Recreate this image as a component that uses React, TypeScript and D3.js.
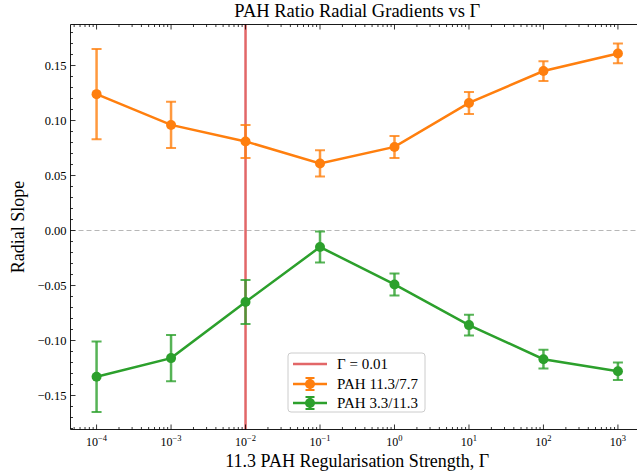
import React from 'react';
import * as d3 from 'd3';

const gammas = [1e-4, 1e-3, 1e-2, 1e-1, 1e0, 1e1, 1e2, 1e3];
const ratio1177 = [0.124, 0.096, 0.081, 0.061, 0.076, 0.116, 0.145, 0.161];
const ratio1177Err = [0.041, 0.021, 0.015, 0.012, 0.010, 0.010, 0.009, 0.009];
const ratio33113 = [-0.133, -0.116, -0.065, -0.015, -0.049, -0.086, -0.117, -0.128];
const ratio33113Err = [0.032, 0.021, 0.020, 0.014, 0.010, 0.0095, 0.0085, 0.008];
const gammaChosen = 0.01;
const yTicks = [-0.15, -0.1, -0.05, 0, 0.05, 0.1, 0.15];
const xTickExps = [-4, -3, -2, -1, 0, 1, 2, 3];

const W = 637;
const H = 474;
const left = 70.5;
const right = 644;
const top = 24.5;
const bottom = 429.5;
const font = '"Liberation Serif", "DejaVu Serif", serif';

const series = [
  { label: 'PAH 11.3/7.7', values: ratio1177, errs: ratio1177Err, color: '#ff7f0e' },
  { label: 'PAH 3.3/11.3', values: ratio33113, errs: ratio33113Err, color: '#2ca02c' },
];

export default function App() {
  const x = d3.scaleLog().domain([10 ** -4.35, 10 ** 3.35]).range([left, right]);
  const y = d3.scaleLinear().domain([-0.1809, 0.1873]).range([bottom, top]);

  const minorX: number[] = [];
  for (let e = -5; e <= 3; e++) {
    for (let k = 2; k <= 9; k++) {
      const v = k * 10 ** e;
      if (x(v) > left && x(v) < right) minorX.push(v);
    }
  }
  const minorY: number[] = d3.range(-18, 19).map(i => i / 100).filter(v => !yTicks.some(t => Math.abs(t - v) < 1e-6));

  const line = d3.line<number>().x((d, i) => x(gammas[i])).y(d => y(d));
  const fmt = (v: number) => d3.format('.2f')(v).replace('-', '\u2212');

  return (
    <svg width={W} height={H} style={{ position: 'absolute', left: 0, top: 0, background: '#fff' }}>
      <defs>
        <clipPath id="plot">
          <rect x={left} y={top} width={right - left} height={bottom - top} />
        </clipPath>
      </defs>
      <rect width={W} height={H} fill="#fff" />
      <g clipPath="url(#plot)">
        <line x1={left} x2={right} y1={y(0)} y2={y(0)} stroke="#999" strokeOpacity={0.7} strokeWidth={1.2} strokeDasharray="5,3" />
        <line x1={x(gammaChosen)} x2={x(gammaChosen)} y1={top} y2={bottom} stroke="#d62728" strokeOpacity={0.7} strokeWidth={2.5} />
        {series.map(s => (
          <g key={s.label}>
            {s.values.map((v, i) => (
              <g key={i} stroke={s.color} strokeOpacity={0.8}>
                <line x1={x(gammas[i])} x2={x(gammas[i])} y1={y(v - s.errs[i])} y2={y(v + s.errs[i])} strokeWidth={2.5} />
                <line x1={x(gammas[i]) - 5} x2={x(gammas[i]) + 5} y1={y(v - s.errs[i])} y2={y(v - s.errs[i])} strokeWidth={2} />
                <line x1={x(gammas[i]) - 5} x2={x(gammas[i]) + 5} y1={y(v + s.errs[i])} y2={y(v + s.errs[i])} strokeWidth={2} />
              </g>
            ))}
            <path d={line(s.values) || ''} fill="none" stroke={s.color} strokeWidth={2.5} />
            {s.values.map((v, i) => (
              <circle key={i} cx={x(gammas[i])} cy={y(v)} r={5} fill={s.color} />
            ))}
          </g>
        ))}
      </g>
      {/* frame */}
      <g stroke="#000" strokeWidth={0.9} fill="none">
        <line x1={left} x2={left} y1={top} y2={bottom} />
        <line x1={left} x2={right} y1={bottom} y2={bottom} />
        <line x1={left} x2={right} y1={top} y2={top} />
        <line x1={right} x2={right} y1={top} y2={bottom} />
      </g>
      {/* ticks, all pointing inwards */}
      <g stroke="#000" strokeWidth={0.8}>
        {xTickExps.map(e => (
          <g key={e}>
            <line x1={x(10 ** e)} x2={x(10 ** e)} y1={bottom} y2={bottom - 5} />
            <line x1={x(10 ** e)} x2={x(10 ** e)} y1={top} y2={top + 5} />
          </g>
        ))}
        {minorX.map((v, i) => (
          <g key={i}>
            <line x1={x(v)} x2={x(v)} y1={bottom} y2={bottom - 2.5} />
            <line x1={x(v)} x2={x(v)} y1={top} y2={top + 2.5} />
          </g>
        ))}
        {yTicks.map(t => (
          <line key={t} x1={left} x2={left + 5} y1={y(t)} y2={y(t)} />
        ))}
        {minorY.map(t => (
          <line key={t} x1={left} x2={left + 2.5} y1={y(t)} y2={y(t)} />
        ))}
      </g>
      <g fontFamily={font} fill="#000">
        {xTickExps.map(e => (
          <text key={e} x={x(10 ** e)} y={bottom + 16} textAnchor="middle" fontSize={12}>
            10<tspan fontSize={8.5} dy={-5}>{String(e).replace('-', '\u2212')}</tspan>
          </text>
        ))}
        {yTicks.map(t => (
          <text key={t} x={left - 4} y={y(t) + 4.5} textAnchor="end" fontSize={12.5}>{fmt(t)}</text>
        ))}
      </g>
      <text x={(left + right) / 2} y={17} textAnchor="middle" fontFamily={font} fontSize={18.5}>PAH Ratio Radial Gradients vs Γ</text>
      <text x={(left + right) / 2} y={467} textAnchor="middle" fontFamily={font} fontSize={18}>11.3 PAH Regularisation Strength, Γ</text>
      <text transform={`translate(24,${(top + bottom) / 2}) rotate(-90)`} textAnchor="middle" fontFamily={font} fontSize={18}>Radial Slope</text>
      {/* legend */}
      <g transform="translate(288,353)" fontFamily={font} fontSize={15}>
        <rect x={0} y={0} width={137} height={59} rx={3} fill="#fff" fillOpacity={0.8} stroke="#ccc" strokeWidth={1} />
        <line x1={5} x2={39} y1={11} y2={11} stroke="#d62728" strokeOpacity={0.7} strokeWidth={2.5} />
        <text x={49} y={16}>Γ = 0.01</text>
        {series.map((s, i) => {
          const cy = 31 + i * 19;
          return (
            <g key={s.label}>
              <line x1={5} x2={39} y1={cy} y2={cy} stroke={s.color} strokeWidth={2.5} />
              <line x1={22} x2={22} y1={cy - 6} y2={cy + 6} stroke={s.color} strokeWidth={2.5} />
              <line x1={17.5} x2={26.5} y1={cy - 6} y2={cy - 6} stroke={s.color} strokeWidth={2} />
              <line x1={17.5} x2={26.5} y1={cy + 6} y2={cy + 6} stroke={s.color} strokeWidth={2} />
              <circle cx={22} cy={cy} r={5} fill={s.color} />
              <text x={49} y={cy + 5}>{s.label}</text>
            </g>
          );
        })}
      </g>
    </svg>
  );
}
